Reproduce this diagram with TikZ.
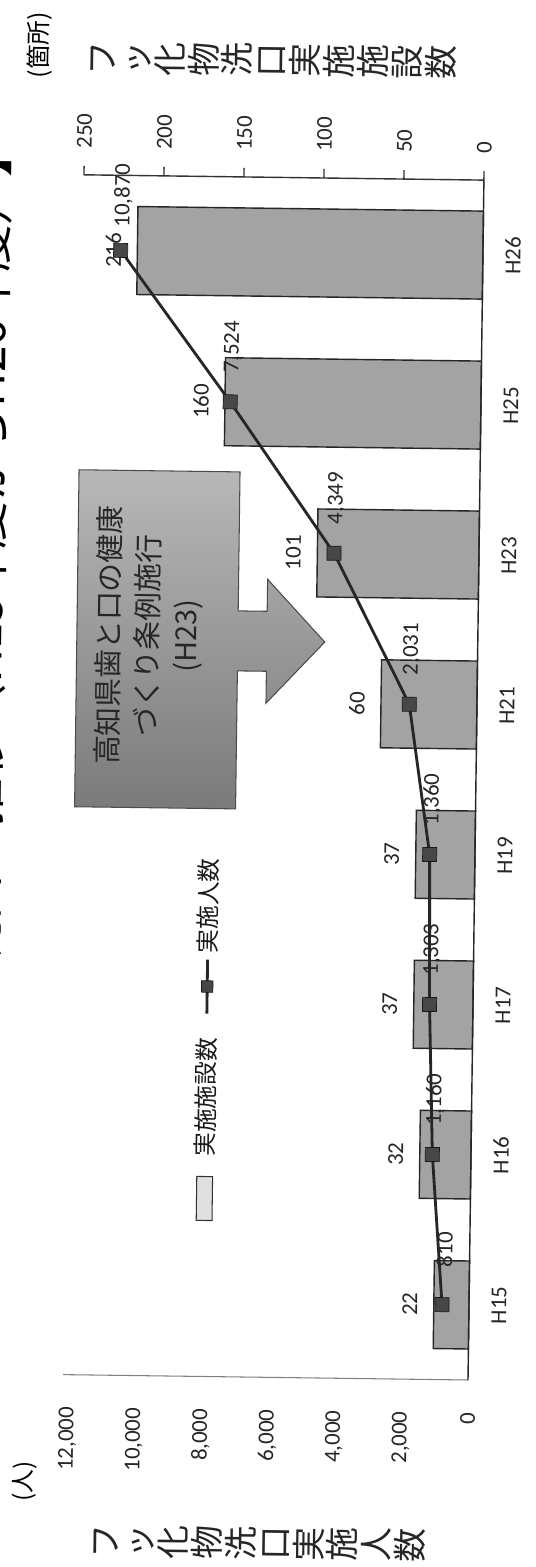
\documentclass[tikz,border=0pt]{standalone}
\usepackage{fontspec}
\setmainfont{Carlito}
\newfontfamily\jp{Noto Sans CJK JP}
\usetikzlibrary{positioning}

\tikzset{
    barbox/.style={draw=black!85, fill=black!36, line width=0.8pt},
    pmark/.style={rectangle, draw=black!90, fill=black!72, minimum size=8pt, inner sep=0pt},
    pline/.style={draw=black!85, line width=1.6pt},
    num/.style={font=\fontsize{13}{15}\selectfont, text=black!85, inner sep=0pt},
    jtitle/.style={font={\jp\fontsize{19.3}{19.3}\selectfont}, align=center, text=black!85, inner sep=0pt},
    jleg/.style={font={\jp\fontsize{13.5}{13.5}\selectfont}, text=black!90, inner sep=0pt}
}

\begin{document}
\begin{tikzpicture}[x=0.02cm, y=0.02cm]
    \useasboundingbox (0,0) rectangle (535,1567);
    \fill[white] (0,0) rectangle (535,1567);

    % chart is turned on its side, like the scan
    \begin{scope}[shift={(468,187)}, rotate=89.24, transform shape]
    \node[anchor=base east, font={\jp\fontsize{27}{27}\selectfont}, inner sep=0pt] (title) at (1244,476) {【フッ化物洗口の推移（H15年度からH26年度）】};

    \foreach \yr/\fac/\ppl/\lbl [count=\i from 0] in {H15/22/810/810, H16/32/1160/{1,160}, H17/37/1303/{1,303}, H19/37/1360/{1,360}, H21/60/2031/{2,031}, H23/101/4349/{4,349}, H25/160/7524/{7,524}, H26/216/10870/{10,870}} {
        \draw[barbox] ({75+150*\i-44},0) rectangle ({75+150*\i+44},{1.6*\fac});
        \node[num] (fac\i) at ({75+150*\i},{1.6*\fac+24}) {\fac};
        \node[num] (yr\i) at ({75+150*\i},-30) {\yr};
        \node[num] (ppl\i) at ({75+150*\i+55},{\ppl/30-2}) {\lbl};
        \coordinate (p\i) at ({75+150*\i},{\ppl/30});
    }

    % axes
    \draw[black!50, line width=0.6pt] (0,0) -- (0,405);
    \draw[black!85, line width=0.8pt] (0,0) -- (1200,0);
    \draw[black!80, line width=0.8pt] (1200,0) -- (1200,400);
    \foreach \v in {0,50,...,250} {
        \draw[black!80, line width=0.8pt] (1200,{1.6*\v}) -- (1209,{1.6*\v});
        \node[num, anchor=west] (rt\v) at (1226,{1.6*\v}) {\v};
    }
    \foreach \v/\t in {0/0, 2000/{2,000}, 4000/{4,000}, 6000/{6,000}, 8000/{8,000}, 10000/{10,000}, 12000/{12,000}}
        \node[num, anchor=east] (lt\v) at (-32,{\v/30}) {\t};

    \node[jtitle] (rtitle) at (1317,212) {フ\\ッ\\化\\物\\洗\\口\\実\\施\\施\\設\\数};
    \node[jtitle] (ltitle) at (-166,206) {フ\\ッ\\化\\物\\洗\\口\\実\\施\\人\\数};
    \node[font={\jp\fontsize{14}{14}\selectfont}, inner sep=0pt] (unitr) at (1329,446) {(箇所)};
    \node[font={\jp\fontsize{13.6}{14}\selectfont}, inner sep=0pt] (unitl) at (-107,442) {(人)};

    % people line
    \draw[pline] (p0) -- (p1) -- (p2) -- (p3) -- (p4) -- (p5) -- (p6) -- (p7);
    \foreach \i in {0,...,7}
        \node[pmark] (m\i) at (p\i) {};

    % legend
    \node[draw=black!80, fill=black!12, line width=0.6pt, minimum width=25pt, minimum height=9pt, inner sep=0pt] (legbar) at (178,266) {};
    \node[jleg, right=11pt of legbar] (legfac) {実施施設数};
    \coordinate (lga) at (363,266);
    \coordinate (lgb) at (417,266);
    \draw[pline] (lga) -- (lgb);
    \node[pmark, minimum size=6.5pt] (legmark) at (390,266) {};
    \node[jleg, anchor=west] (legppl) at (423,266) {実施人数};

    % ordinance call-out
    \draw[black!70, line width=0.6pt, top color=black!28, bottom color=black!52]
        (568,401) -- (905,401) -- (905,240) -- (766,240) -- (766,211) -- (798,211)
        -- (736,153) -- (674,211) -- (706,211) -- (706,240) -- (568,240) -- cycle;
    \node[font={\jp\fontsize{16.4}{22}\selectfont}, align=center, text=black!85, inner sep=0pt] (law) at (740,329) {高知県歯と口の健康\\づくり条例施行\\(H23)};
    \end{scope}
\end{tikzpicture}
\end{document}
